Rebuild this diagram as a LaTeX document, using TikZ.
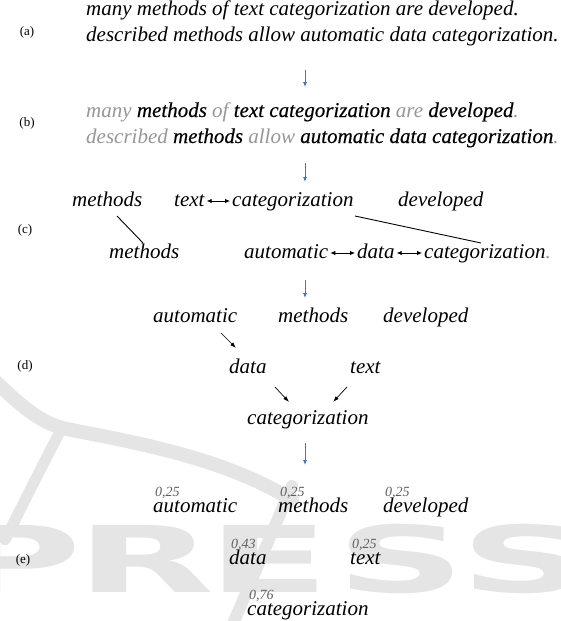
\documentclass[tikz,border=0pt]{standalone}
\usepackage{fontspec}
\setmainfont{Liberation Serif}
\newfontfamily\heavyfont{Liberation Serif}[FakeBold=0.35]
\newfontfamily\logofont{DejaVu Sans}
\usetikzlibrary{arrows.meta}
\definecolor{flowblue}{RGB}{68,114,196}
\definecolor{fadegray}{RGB}{150,150,150}
\definecolor{weightgray}{RGB}{95,95,95}
\definecolor{wmgray}{RGB}{229,229,229}
\newcommand\wordfont{\fontsize{21}{25}\selectfont\itshape}
\newcommand\labelfont{\fontsize{13}{15}\selectfont}
\newcommand\weightfont{\fontsize{14}{16}\selectfont\itshape}
\newcommand\fd[1]{\textcolor{fadegray}{\rmfamily\itshape#1}}
\tikzset{
	wd/.style={font=\wordfont,inner sep=0pt,anchor=base west},
	bw/.style={wd,font=\wordfont\heavyfont\itshape},
	lbl/.style={font=\labelfont,inner sep=0pt},
	wt/.style={font=\weightfont,text=weightgray,inner sep=0pt,anchor=base west},
	flow/.style={draw=flowblue,line width=0.8pt,-{Latex[length=5pt,width=4pt]}},
	link/.style={line width=0.8pt,{Latex[length=5pt,width=4.5pt]}-{Latex[length=5pt,width=4.5pt]}},
	dep/.style={line width=0.7pt,-{Latex[length=6pt,width=4pt]}},
	tie/.style={line width=0.9pt},
	wm/.style={draw=wmgray,line cap=round},
	logo/.style={font=\logofont\bfseries\fontsize{92}{92}\selectfont,text=wmgray,inner sep=0pt,anchor=base west,xscale=1.95}
}
\begin{document}
\begin{tikzpicture}[x=1pt,y=-1pt]
	\useasboundingbox (0,0) rectangle (560,621);
	\draw[wm,line width=14pt] (-8,378) .. controls (15,400) and (35,420) .. (62,428) .. controls (120,440) and (220,455) .. (292,500);
	\draw[wm,line width=11pt] (62,428) .. controls (45,460) and (25,500) .. (5,540);
	\draw[wm,line width=12pt] (292,486) -- (232,626);
	\foreach \c/\x in {P/-50,R/76,E/207,S/336,S/460}
		\node[logo] at (\x,592) {\c};
	\node[lbl] (la) at (27,32) {(a)};
	\node[wd] (a1) at (86,15) {many methods of text categorization are developed.};
	\node[wd] (a2) at (86,41) {described methods allow automatic data categorization.};
	\node[lbl] (lb) at (27,123) {(b)};
	\node[bw] (b1) at (86,117) {\fd{many} methods \fd{of} text categorization \fd{are} developed\fd{.}};
	\node[bw] (b2) at (86,143) {\fd{described} methods \fd{allow} automatic data categorization\fd{.}};
	\node[lbl] (lc) at (25,230) {(c)};
	\node[wd] (cmeth1) at (72,206) {methods};
	\node[wd] (ctext) at (174,206) {text};
	\node[wd] (ccat1) at (232,206) {categorization};
	\node[wd] (cdev) at (398,206) {developed};
	\node[wd] (cmeth2) at (109,258) {methods};
	\node[wd] (cauto) at (244,258) {automatic};
	\node[wd] (cdata) at (357,258) {data};
	\node[wd] (ccat2) at (424,258) {categorization\fd{.}};
	\draw[link] ([xshift=2pt,yshift=5pt]ctext.base east) -- ([xshift=-2pt,yshift=5pt]ccat1.base west);
	\draw[link] ([xshift=2pt,yshift=5pt]cauto.base east) -- ([xshift=-2pt,yshift=5pt]cdata.base west);
	\draw[link] ([xshift=2pt,yshift=5pt]cdata.base east) -- ([xshift=-2pt,yshift=5pt]ccat2.base west);
	\draw[tie] ([xshift=45pt,yshift=-10pt]cmeth1.base west) -- ([xshift=34pt,yshift=15pt]cmeth2.base west);
	\draw[tie] ([xshift=123pt,yshift=-10pt]ccat1.base west) -- ([xshift=57pt,yshift=15pt]ccat2.base west);
	\node[lbl] (ld) at (25,366) {(d)};
	\node[wd] (dauto) at (153,322) {automatic};
	\node[wd] (dmeth) at (278,322) {methods};
	\node[wd] (ddev) at (383,322) {developed};
	\node[wd] (ddata) at (229,373) {data};
	\node[wd] (dtext) at (350,373) {text};
	\node[wd] (dcat) at (247,424) {categorization};
	\draw[dep] ([xshift=68pt,yshift=-11pt]dauto.base west) -- ([xshift=7pt,yshift=25pt]ddata.base west);
	\draw[dep] ([xshift=46pt,yshift=-14pt]ddata.base west) -- ([xshift=42pt,yshift=22pt]dcat.base west);
	\draw[dep] ([xshift=-3pt,yshift=-14pt]dtext.base west) -- ([xshift=86pt,yshift=22pt]dcat.base west);
	\node[lbl] (le) at (23,560) {(e)};
	\node[wd] (eauto) at (153,512) {automatic};
	\node[wd] (emeth) at (278,512) {methods};
	\node[wd] (edev) at (383,512) {developed};
	\node[wd] (edata) at (229,564) {data};
	\node[wd] (etext) at (350,564) {text};
	\node[wd] (ecat) at (247,615) {categorization};
	\foreach \w/\v in {eauto/0{,}25,emeth/0{,}25,edev/0{,}25,edata/0{,}43,etext/0{,}25,ecat/0{,}76}
		\node[wt] (\w-wt) at ([xshift=2pt,yshift=16pt]\w.base west) {\v};
	\foreach \n/\ya/\yb in {1/70/87,2/163/182,3/280/298,4/443/465}{
		\coordinate (f\n-s) at (305,\ya);
		\coordinate (f\n-e) at (305,\yb);
		\draw[flow] (f\n-s) -- (f\n-e);
	}
\end{tikzpicture}
\end{document}
